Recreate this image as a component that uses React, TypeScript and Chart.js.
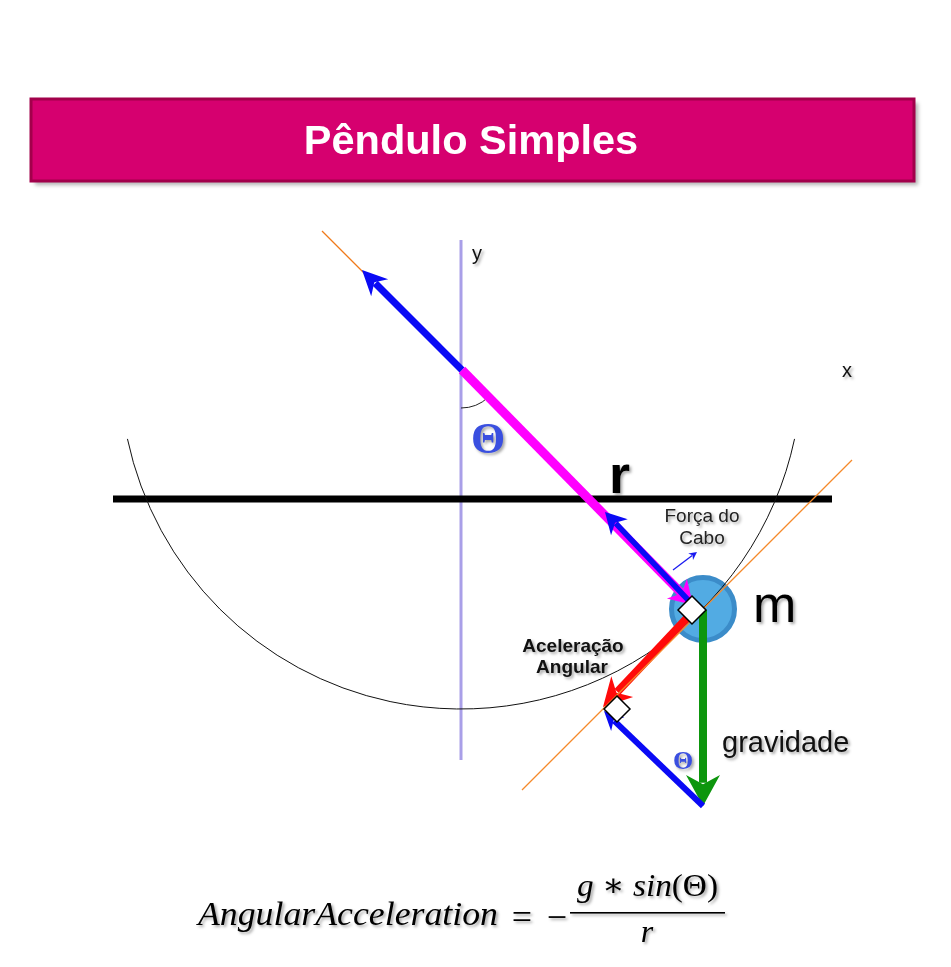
import React, { useEffect, useRef } from 'react';
import { Chart, registerables } from 'chart.js';

Chart.register(...registerables);

// --- Diagram geometry (data units map 1:1 onto the 951x967 page) ---
const yAxisLine = [[461, 240], [461, 760]];
const groundBar = [[113, 499], [832, 499]];
const stringExtension = [[322, 231], [366, 275]];
const tensionUp = [[462, 370], [362, 270]];
const stringLine = [[462, 370], [693, 605]];
const cableForce = [[690, 602], [605, 512]];
const cableHint = [[673, 570], [697, 552]];
const tangentLine = [[852, 460], [522, 790]];
const angularAccel = [[687, 618], [603, 707]];
const gravity = [[703, 610], [703, 806]];
const gravityComponent = [[703, 806], [604, 711]];
const massCenter = [[703, 609]];
const rightAngleMass = [[692, 610]];
const rightAngleTangent = [[617, 709]];
const pivot = [[461, 368]];
const swingRadius = 341;
const swingSpan = [12, 168];
const thetaRadius = 40;
const thetaSpan = [47, 90];

const labels = [
  { text: 'y', x: 472, y: 260, font: '20px "Liberation Sans"', color: '#111', align: 'left' },
  { text: 'x', x: 842, y: 377, font: '20px "Liberation Sans"', color: '#111', align: 'left' },
  { text: 'Θ', x: 488, y: 453, font: 'bold 44px "Liberation Serif"', color: '#3a4fe0', align: 'center' },
  { text: 'r', x: 609, y: 493, font: 'bold 54px "Liberation Sans"', color: '#000', align: 'left' },
  { text: 'Força do', x: 702, y: 522, font: '19px "Liberation Sans"', color: '#222', align: 'center' },
  { text: 'Cabo', x: 702, y: 544, font: '19px "Liberation Sans"', color: '#222', align: 'center' },
  { text: 'm', x: 753, y: 622, font: '52px "Liberation Sans"', color: '#000', align: 'left' },
  { text: 'Aceleração', x: 573, y: 652, font: 'bold 19px "Liberation Sans"', color: '#111', align: 'center' },
  { text: 'Angular', x: 572, y: 673, font: 'bold 19px "Liberation Sans"', color: '#111', align: 'center' },
  { text: 'gravidade', x: 722, y: 752, font: '29px "Liberation Sans"', color: '#111', align: 'left' },
  { text: 'Θ', x: 683, y: 769, font: 'bold 26px "Liberation Serif"', color: '#3a4fe0', align: 'center' },
];

const title = 'Pêndulo Simples';
const bannerBox = [31, 99, 914, 181];

const pts = (list: number[][]) => list.map(([x, y]) => ({ x, y }));

function line(list: number[][], color: string, width: number) {
  return { data: pts(list), showLine: true, borderColor: color, borderWidth: width, pointRadius: 0, borderCapStyle: 'butt' };
}

function arrow(list: number[][], color: string, width: number, headLength: number, headWidth: number) {
  return { data: pts(list), showLine: false, pointRadius: 0, arrow: { color, width, headLength, headWidth } };
}

function marker(list: number[][], style: string, radius: number, fill: string, border: string, bw: number) {
  return {
    data: pts(list), showLine: false, pointStyle: style, pointRadius: radius,
    pointBackgroundColor: fill, pointBorderColor: border, pointBorderWidth: bw,
  };
}

function drawArrow(ctx: CanvasRenderingContext2D, x0: number, y0: number, x1: number, y1: number, a: any) {
  const len = Math.hypot(x1 - x0, y1 - y0);
  const ux = (x1 - x0) / len, uy = (y1 - y0) / len;
  const px = -uy, py = ux;
  const L = a.headLength, W = a.headWidth, notch = L * 0.7;
  ctx.save();
  ctx.strokeStyle = a.color;
  ctx.fillStyle = a.color;
  ctx.lineWidth = a.width;
  ctx.lineCap = 'butt';
  ctx.beginPath();
  ctx.moveTo(x0, y0);
  ctx.lineTo(x1 - ux * L * 0.75, y1 - uy * L * 0.75);
  ctx.stroke();
  ctx.beginPath();
  ctx.moveTo(x1, y1);
  ctx.lineTo(x1 - ux * L + px * W, y1 - uy * L + py * W);
  ctx.lineTo(x1 - ux * notch, y1 - uy * notch);
  ctx.lineTo(x1 - ux * L - px * W, y1 - uy * L - py * W);
  ctx.closePath();
  ctx.fill();
  ctx.restore();
}

function shadow(ctx: CanvasRenderingContext2D) {
  ctx.shadowColor = 'rgba(0,0,0,0.35)';
  ctx.shadowOffsetX = 2;
  ctx.shadowOffsetY = 2;
  ctx.shadowBlur = 3;
}

function drawRuns(ctx: CanvasRenderingContext2D, runs: any[], left: number, right: number, base: number, size: number) {
  const fonts = runs.map((r) => `${r.italic ? 'italic ' : ''}${size}px "Liberation Serif", "DejaVu Serif", serif`);
  let total = 0;
  const widths = runs.map((r, i) => {
    ctx.font = fonts[i];
    const w = ctx.measureText(r.text).width;
    total += w;
    return w;
  });
  ctx.save();
  ctx.translate(left, base);
  ctx.scale((right - left) / total, 1);
  ctx.textAlign = 'left';
  let x = 0;
  runs.forEach((r, i) => {
    ctx.font = fonts[i];
    ctx.fillText(r.text, x, 0);
    x += widths[i];
  });
  ctx.restore();
}

const diagramPlugin = {
  id: 'diagram',
  beforeDatasetsDraw(chart: any) {
    const { ctx, scales } = chart;
    const X = (v: number) => scales.x.getPixelForValue(v);
    const Y = (v: number) => scales.y.getPixelForValue(v);
    const [l, t, r, b] = bannerBox;
    ctx.save();
    ctx.shadowColor = 'rgba(0,0,0,0.3)';
    ctx.shadowOffsetX = 4;
    ctx.shadowOffsetY = 4;
    ctx.shadowBlur = 4;
    ctx.fillStyle = '#d6006f';
    ctx.fillRect(X(l), Y(t), X(r) - X(l), Y(b) - Y(t));
    ctx.restore();
    ctx.save();
    ctx.strokeStyle = '#a2004b';
    ctx.lineWidth = 3;
    ctx.strokeRect(X(l), Y(t), X(r) - X(l), Y(b) - Y(t));
    ctx.fillStyle = '#ffffff';
    ctx.font = 'bold 41.5px "Liberation Sans", Arial, sans-serif';
    ctx.textAlign = 'center';
    ctx.fillText(title, X(471), Y(154));
    ctx.restore();
  },
  afterDatasetDraw(chart: any, args: any) {
    const ds = chart.data.datasets[args.index];
    const el = args.meta.data;
    const ctx = chart.ctx;
    if (ds.arrow && el.length > 1) {
      drawArrow(ctx, el[0].x, el[0].y, el[1].x, el[1].y, ds.arrow);
    }
    if (ds.arc) {
      const sx = chart.scales.x;
      const cx = ds.data[0].x;
      const rad = Math.abs(sx.getPixelForValue(cx + ds.arc.radius) - sx.getPixelForValue(cx));
      ctx.save();
      ctx.strokeStyle = ds.arc.color;
      ctx.lineWidth = ds.arc.width;
      ctx.beginPath();
      ctx.arc(el[0].x, el[0].y, rad, (ds.arc.span[0] * Math.PI) / 180, (ds.arc.span[1] * Math.PI) / 180);
      ctx.stroke();
      ctx.restore();
    }
  },
  afterDatasetsDraw(chart: any) {
    const { ctx, scales } = chart;
    const X = (v: number) => scales.x.getPixelForValue(v);
    const Y = (v: number) => scales.y.getPixelForValue(v);
    labels.forEach((lb) => {
      ctx.save();
      shadow(ctx);
      ctx.font = lb.font;
      ctx.fillStyle = lb.color;
      ctx.textAlign = lb.align;
      ctx.textBaseline = 'alphabetic';
      ctx.fillText(lb.text, X(lb.x), Y(lb.y));
      ctx.restore();
    });

    // formula
    ctx.save();
    shadow(ctx);
    ctx.fillStyle = '#000';
    drawRuns(ctx, [{ text: 'AngularAcceleration', italic: true }], X(198), X(498), Y(925), 34);
    ctx.font = '36px "Liberation Serif", serif';
    ctx.textAlign = 'center';
    ctx.fillText('=', X(522), Y(929));
    ctx.fillText('−', X(557), Y(929));
    ctx.fillRect(X(570), Y(912), X(725) - X(570), 1.6);
    drawRuns(
      ctx,
      [
        { text: 'g', italic: true },
        { text: ' ∗ ', italic: false },
        { text: 'sin', italic: true },
        { text: '(Θ)', italic: false },
      ],
      X(577), X(718), Y(896), 32,
    );
    ctx.font = 'italic 32px "Liberation Serif", serif';
    ctx.textAlign = 'center';
    ctx.fillText('r', X(647), Y(942));
    ctx.restore();
  },
};

export default function App() {
  const canvasRef = useRef<HTMLCanvasElement | null>(null);

  useEffect(() => {
    if (!canvasRef.current) return;
    // listed back to front
    const datasets: any[] = [
      line(yAxisLine, '#a99fe8', 3),
      line(groundBar, '#000000', 7),
      line(stringExtension, '#f07a1a', 1.2),
      arrow(tensionUp, '#0a0af5', 7, 25, 12),
      marker(massCenter, 'circle', 31.5, '#52abe3', '#3b8cc9', 5),
      { data: pts(pivot), showLine: false, pointRadius: 0, arc: { radius: swingRadius, span: swingSpan, color: '#111', width: 1 } },
      { data: pts(pivot), showLine: false, pointRadius: 0, arc: { radius: thetaRadius, span: thetaSpan, color: '#222', width: 1 } },
      arrow(stringLine, '#ff00ff', 9, 23, 14),
      arrow(cableForce, '#0a0af5', 5.5, 21, 11.5),
      arrow(cableHint, '#1a1af0', 1.3, 8, 4),
      arrow(gravity, '#0d960d', 8, 31, 17),
      arrow(angularAccel, '#ff0a0a', 8, 28, 15),
      line(tangentLine, '#f58a2a', 1.2),
      arrow(gravityComponent, '#0a0af5', 6, 19, 9.5),
      marker(rightAngleMass, 'rectRot', 14, '#ffffff', '#000000', 1.5),
      marker(rightAngleTangent, 'rectRot', 13, '#ffffff', '#000000', 1.5),
    ];
    datasets.forEach((d, i) => {
      d.order = datasets.length - i;
    });

    const chart = new Chart(canvasRef.current, {
      type: 'scatter',
      data: { datasets },
      options: {
        animation: false,
        responsive: true,
        maintainAspectRatio: false,
        events: [],
        layout: { padding: 0, autoPadding: false },
        scales: {
          x: { type: 'linear', min: 0, max: 951, display: false },
          y: { type: 'linear', min: 0, max: 967, reverse: true, display: false },
        },
        plugins: {
          legend: { display: false },
          tooltip: { enabled: false },
        },
      },
      plugins: [diagramPlugin],
    } as any);

    return () => chart.destroy();
  }, []);

  return (
    <div style={{ position: 'absolute', left: 0, top: 0, width: 951, height: 967, background: '#fff' }}>
      <canvas ref={canvasRef}></canvas>
    </div>
  );
}
